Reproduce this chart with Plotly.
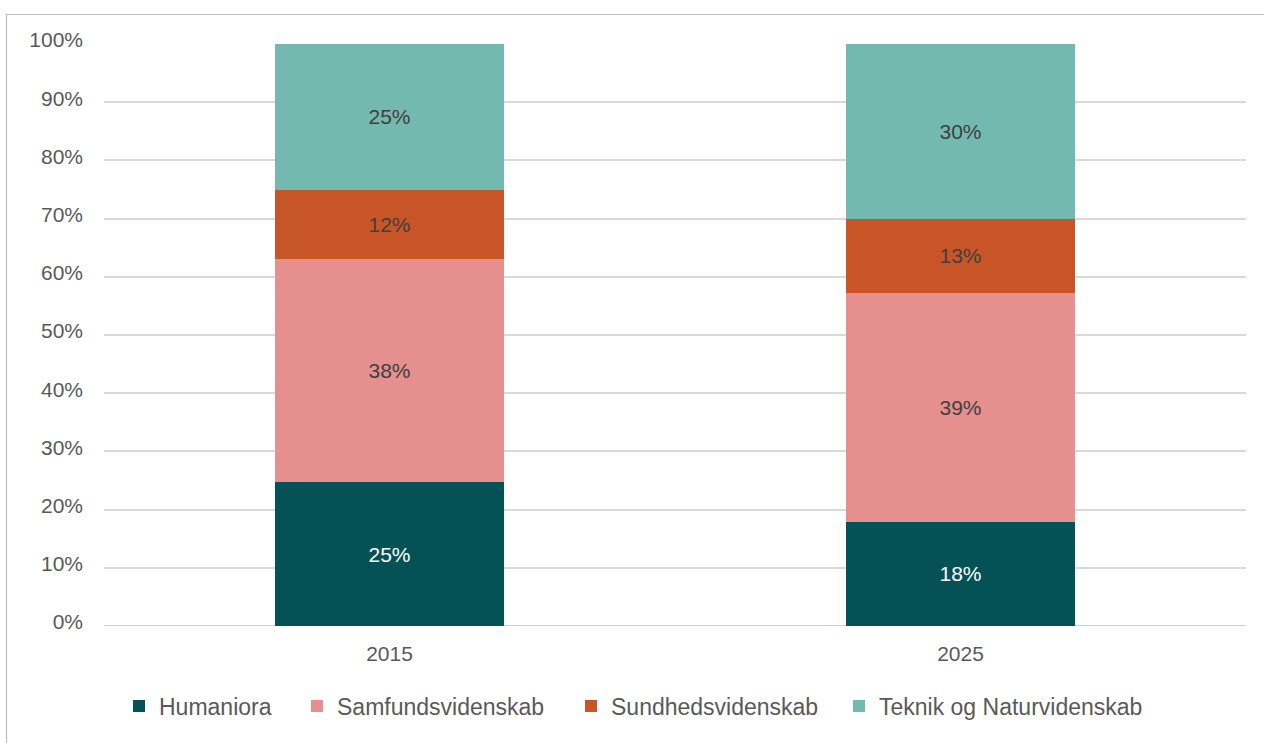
import plotly.graph_objects as go

years = ["2015", "2025"]
series = ["Humaniora", "Samfundsvidenskab", "Sundhedsvidenskab", "Teknik og Naturvidenskab"]
humaniora = [24.7, 17.9]
samfund = [38.4, 39.4]
sundhed = [11.9, 12.7]
teknik = [25.0, 30.0]
values = [humaniora, samfund, sundhed, teknik]
colors = ["#045256", "#E58F8F", "#C75528", "#74B9AF"]
text_colors = ["#FFFFFF", "#404040", "#404040", "#404040"]
y_ticks = list(range(0, 101, 10))
y_tick_labels = [f"{t}%" for t in y_ticks]

FONT = "Liberation Sans, Arial, sans-serif"

W, H = 1264, 743
L, R, T, B = 104, 18, 44, 117
pw, ph = W - L - R, H - T - B

def px(x):
    return (x - L) / pw

def py(y):
    return (H - B - y) / ph

legend_ids = ["legend", "legend2", "legend3", "legend4"]
legend_text_x = [160, 338, 612, 880]

fig = go.Figure()
for name, vals, col, tcol, lid in zip(series, values, colors, text_colors, legend_ids):
    fig.add_trace(go.Bar(
        x=years, y=vals, name=name, legend=lid,
        marker=dict(color=col, line=dict(width=0)),
        text=[f"{round(v)}%" for v in vals],
        textposition="inside", insidetextanchor="middle",
        textfont=dict(color=tcol, size=21, family=FONT),
        hoverinfo="skip",
    ))

legend_layout = {}
for lid, tx in zip(legend_ids, legend_text_x):
    legend_layout[lid] = dict(orientation="h", x=px(tx - 41), xanchor="left", y=py(706), yanchor="middle",
                              font=dict(size=23, color="#595959"), itemwidth=30,
                              bgcolor="rgba(0,0,0,0)")

fig.update_layout(
    width=W, height=H,
    barmode="stack", bargap=0.6,
    margin=dict(l=L, r=R, t=T, b=B),
    paper_bgcolor="white", plot_bgcolor="white",
    font=dict(family=FONT, color="#595959", size=21),
    xaxis=dict(showgrid=False, showline=False, ticks="", tickfont=dict(size=21, color="#595959"),
               ticklabelstandoff=13),
    yaxis=dict(range=[0, 100], tickvals=y_ticks, ticktext=y_tick_labels,
               showgrid=True, gridcolor="#D9D9D9", gridwidth=1.5, zeroline=False,
               showline=False, ticks="", tickfont=dict(size=21, color="#595959"),
               ticklabelstandoff=20, ticklabelshift=-4),
    showlegend=True,
    shapes=[
        dict(type="rect", xref="paper", yref="paper", x0=px(6.5), x1=px(1300), y0=py(800), y1=py(14.5),
             line=dict(color="#BFBFBF", width=1.2), fillcolor="rgba(0,0,0,0)", layer="below"),
        dict(type="line", xref="paper", yref="y", x0=0, x1=1, y0=0, y1=0,
             line=dict(color="#D0D0D0", width=2), layer="below"),
    ],
    **legend_layout,
)

fig.write_html("out.html", config={"displayModeBar": False},
               post_script="document.body.style.margin='0';document.body.style.overflow='hidden';")
